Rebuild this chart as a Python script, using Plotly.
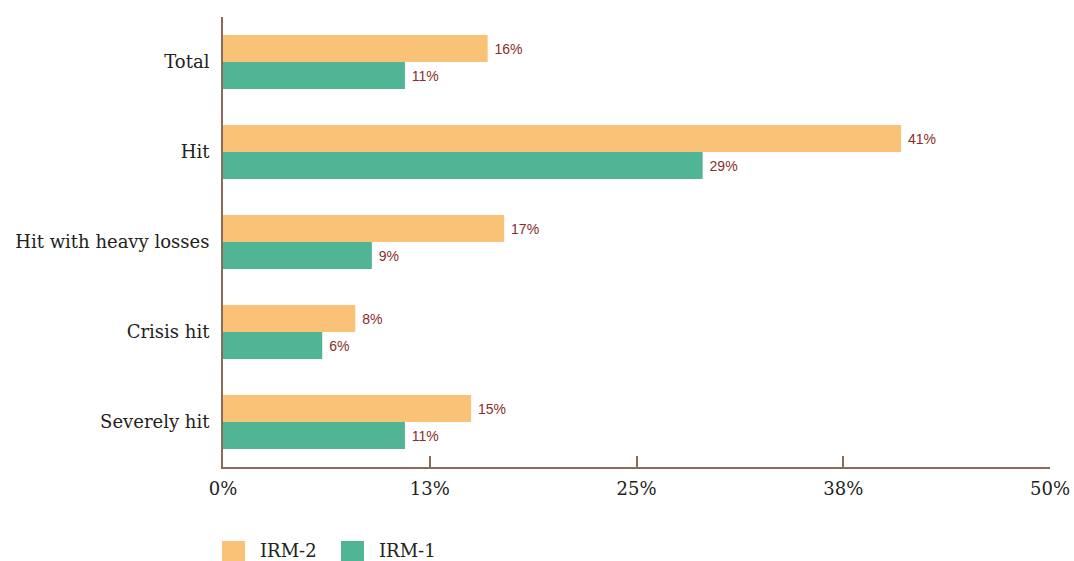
import plotly.graph_objects as go

categories = ["Total", "Hit", "Hit with heavy losses", "Crisis hit", "Severely hit"]
irm2 = [16, 41, 17, 8, 15]
irm1 = [11, 29, 9, 6, 11]
series_names = ["IRM-2", "IRM-1"]
tick_vals = [0, 12.5, 25, 37.5, 50]
tick_text = ["0%", "13%", "25%", "38%", "50%"]

c_orange = "#FAC276"
c_green = "#50B594"
c_label = "#8B2C2C"
c_axis = "#8A6B5B"
serif = "DejaVu Serif"
sans = "Liberation Sans, Arial, sans-serif"

fig = go.Figure()
for name, vals, col in [(series_names[0], irm2, c_orange), (series_names[1], irm1, c_green)]:
    fig.add_trace(go.Bar(
        y=categories, x=vals, name=name, orientation="h",
        marker=dict(color=col, line=dict(width=0)),
        text=[f"\u00a0{v}%" for v in vals], textposition="outside",
        textfont=dict(family=sans, size=14, color=c_label),
        cliponaxis=False, showlegend=False,
    ))

fig.update_layout(
    width=1074, height=561,
    margin=dict(l=223, r=24, t=17, b=94, autoexpand=False),
    paper_bgcolor="white", plot_bgcolor="white",
    barmode="group", bargap=0.4, bargroupgap=0,
    font=dict(family=serif, size=18, color="#222222"),
    xaxis=dict(range=[0, 50], tickvals=tick_vals, ticktext=tick_text, automargin=False,
               showgrid=False, zeroline=False, showline=True, linecolor=c_axis, linewidth=2,
               ticks="inside", ticklen=11, tickcolor=c_axis, tickwidth=2, ticklabelstandoff=4,
               tickfont=dict(family=serif, size=18, color="#222222")),
    yaxis=dict(autorange="reversed", showgrid=False, zeroline=False, automargin=False,
               showline=True, linecolor=c_axis, linewidth=2, ticks="", ticklabelstandoff=8,
               tickfont=dict(family=serif, size=18, color="#222222")),
)

# manual legend with larger swatches
leg_x = [0, 119]
for i, (name, col) in enumerate(zip(series_names, [c_orange, c_green])):
    fig.add_shape(type="rect", xref="paper", yref="paper", xsizemode="pixel", ysizemode="pixel",
                  xanchor=0, yanchor=0, x0=leg_x[i] - 1, x1=leg_x[i] + 22, y0=-74, y1=-96,
                  fillcolor=col, line=dict(width=0))
    fig.add_annotation(x=0, y=0, xref="paper", yref="paper", xanchor="left", yanchor="middle",
                       xshift=leg_x[i] + 36, yshift=-83, text=name, showarrow=False, borderpad=0,
                       font=dict(family=serif, size=18, color="#222222"))

fig.write_html("out.html")
